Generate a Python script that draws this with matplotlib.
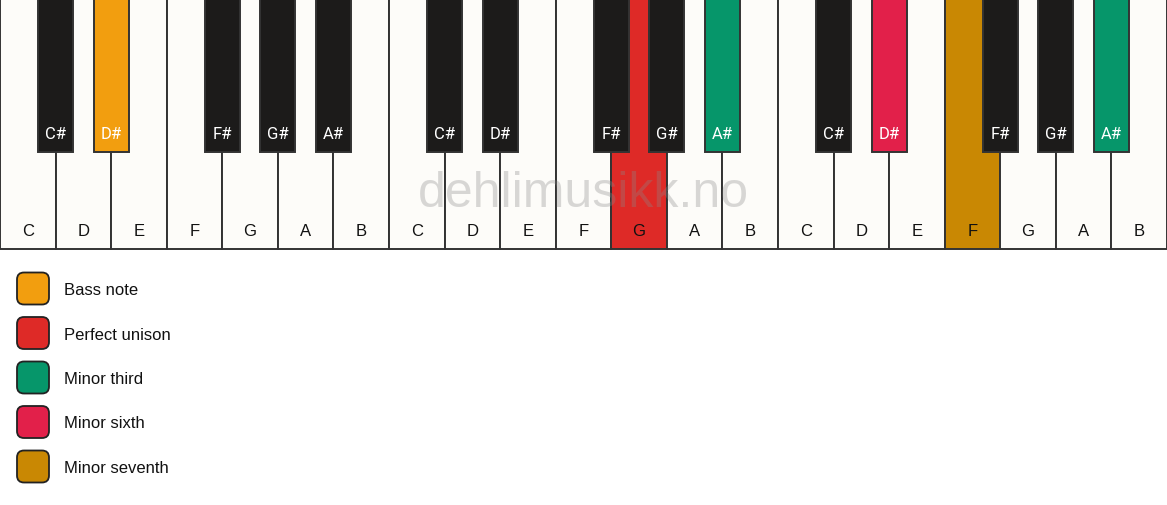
import matplotlib
matplotlib.use("Agg")
import matplotlib.pyplot as plt
from matplotlib.patches import Rectangle, FancyBboxPatch

# ---- data ----
white_names = ["C", "D", "E", "F", "G", "A", "B"] * 3
black_names = ["C#", "D#", "F#", "G#", "A#"] * 3
# index of white key to the left of each black key within an octave
black_offsets = [0, 1, 3, 4, 5]
# highlighted keys: (kind, index, legend category)
white_highlights = {11: "Perfect unison", 17: "Minor seventh"}
black_highlights = {1: "Bass note", 9: "Minor third", 11: "Minor sixth", 14: "Minor third"}
legend_labels = ["Bass note", "Perfect unison", "Minor third", "Minor sixth", "Minor seventh"]
legend_colors = ["#F29E0F", "#DE2A27", "#06966A", "#E2204A", "#C98803"]
watermark = "dehlimusikk.no"

color_of = dict(zip(legend_labels, legend_colors))

W, H = 1167, 506
fig = plt.figure(figsize=(W / 100, H / 100), dpi=100)
ax = fig.add_axes([0, 0, 1, 1])
ax.set_xlim(0, W)
ax.set_ylim(H, 0)
ax.axis("off")

font = ["Liberation Sans", "DejaVu Sans"]
sharp_font = ["Roboto", "DejaVu Sans"]
kw = W / len(white_names)
kh = 250
bw, bh = 35, 153

# white keys
for i, name in enumerate(white_names):
    fc = color_of[white_highlights[i]] if i in white_highlights else "#FDFCF9"
    ax.add_patch(Rectangle((i * kw, 0), kw, kh, facecolor=fc, edgecolor="#333333", lw=1.4, zorder=1))
    ax.text(i * kw + kw / 2, 231, name, ha="center", va="center", fontsize=12,
            family=font, color="#111111", zorder=2)

# black keys
for j, name in enumerate(black_names):
    octave = j // 5
    left_white = octave * 7 + black_offsets[j % 5]
    cx = (left_white + 1) * kw
    fc = color_of[black_highlights[j]] if j in black_highlights else "#1C1B1A"
    ax.add_patch(Rectangle((cx - bw / 2, 0), bw, bh, facecolor=fc, edgecolor="#333333", lw=1.4, zorder=3))
    ax.text(cx, 134, name, ha="center", va="center", fontsize=12,
            family=sharp_font, color="white", zorder=4)

# watermark
ax.text(W / 2, 194, watermark, ha="center", va="center", fontsize=36, family=font,
        color="#888888", alpha=0.32, zorder=5)

# legend
for k, (lab, col) in enumerate(zip(legend_labels, legend_colors)):
    yc = 289.5 + k * 44.5
    ax.add_patch(FancyBboxPatch((17, yc - 16), 32, 32, boxstyle="round,pad=0,rounding_size=7",
                                facecolor=col, edgecolor="#222222", lw=1.3, zorder=3))
    ax.text(64, yc + 1, lab, ha="left", va="center", fontsize=12, family=font, color="#111111")

fig.savefig("out.png", dpi=100, facecolor="white")
